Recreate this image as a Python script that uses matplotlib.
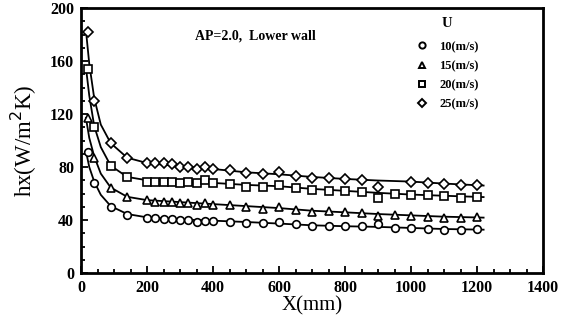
import matplotlib
matplotlib.use("Agg")
import matplotlib.pyplot as plt
from matplotlib.lines import Line2D
from matplotlib.ticker import MultipleLocator

plt.rcParams['font.family'] = ['Liberation Serif', 'DejaVu Serif']

# ---- measured data ----
x_c = [20, 40, 90, 140, 200, 225, 250, 275, 300, 325, 350, 375, 400, 450, 500, 550, 600, 650,
       700, 750, 800, 850, 900, 950, 1000, 1050, 1100, 1150, 1200]
y_c = [91.6, 68, 50, 43.8, 41.8, 41.3, 40.8, 40.8, 40, 40, 38.8, 39.5, 39.3, 38.8, 37.5, 37.5, 38.3, 36.8,
       35.5, 35.5, 35.5, 35.5, 36.8, 33.7, 33.7, 33.2, 32.5, 32.5, 33]

x_t = [20, 40, 90, 140, 200, 225, 250, 275, 300, 325, 350, 375, 400, 450, 500, 550, 600, 650,
       700, 750, 800, 850, 900, 950, 1000, 1050, 1100, 1150, 1200]
y_t = [117, 87, 64.4, 57, 55, 53.8, 53.8, 53.8, 52.6, 53, 51.3, 52.6, 51.3, 51.3, 50, 48.3, 50, 47.6,
       45.8, 46.8, 45.8, 45, 43, 43.8, 43, 42.5, 41.8, 41.3, 42]

x_s = [20, 40, 90, 140, 200, 225, 250, 275, 300, 325, 350, 375, 400, 450, 500, 550, 600, 650,
       700, 750, 800, 850, 900, 950, 1000, 1050, 1100, 1150, 1200]
y_s = [154, 110, 80.5, 72.2, 69, 69, 69, 69, 67.7, 69, 67.7, 70, 68, 67.2, 65.2, 65.2, 66.4, 64.4,
       62.7, 62.2, 62, 60.9, 56.4, 59.6, 58.9, 58.9, 58.4, 56.4, 57]

x_d = [20, 40, 90, 140, 200, 225, 250, 275, 300, 325, 350, 375, 400, 450, 500, 550, 600, 650,
       700, 750, 800, 850, 900, 1000, 1050, 1100, 1150, 1200]
y_d = [182, 130, 98, 86.5, 82.8, 82.8, 82.8, 82.3, 79.8, 80.3, 78.3, 80.3, 78.3, 77.8, 75.3, 74.5, 76, 73.5,
       72, 72, 71, 70.2, 65.2, 69, 67.7, 67, 66.4, 66.4]

# fitted curves
fit_x = [15, 25, 40, 60, 90, 140, 200, 300, 400, 500, 600, 700, 800, 900, 1000, 1100, 1220]
fit_c = [92, 80, 69, 59, 50.5, 44.5, 42, 40.5, 39.5, 38.5, 37.3, 36, 35.3, 34.8, 34, 33.2, 32.7]
fit_t = [117, 102, 88, 75, 64.5, 57.5, 55, 53.5, 52, 50.5, 49, 47, 45.8, 44.5, 43.5, 42.5, 41.8]
fit_s = [155, 134, 111, 95, 81, 72.5, 70, 68.5, 68, 66.5, 65.5, 63.5, 62, 60.5, 59.2, 58.3, 57.3]
fit_d = [183, 158, 132, 112, 98, 87, 83, 80.5, 78.5, 76, 74.5, 72.5, 71, 69.8, 69, 67.5, 66]

labels = ['10(m/s)', '15(m/s)', '20(m/s)', '25(m/s)']
markers = ['o', '^', 's', 'D']

fig = plt.figure(figsize=(5.76, 3.21), dpi=100)
ax = fig.add_axes([81/576, 48/321, 462/576, 265/321])

series = [(x_c, y_c, fit_c), (x_t, y_t, fit_t), (x_s, y_s, fit_s), (x_d, y_d, fit_d)]
msizes = [5.5, 5.5, 5.5, 5]
handles = []
for (xs, ys, fy), m, lab, ms in zip(series, markers, labels, msizes):
    ax.plot(fit_x, fy, color='black', lw=1.3, zorder=2)
    ax.plot(xs, ys, linestyle='none', marker=m, ms=ms, mfc='white', mec='black', mew=1.2, zorder=3)
    handles.append(Line2D([], [], linestyle='none', marker=m, ms=4.5, mfc='white', mec='black', mew=1.4, label=lab))

ax.set_xlim(0, 1400)
ax.set_ylim(0, 200)
ax.xaxis.set_major_locator(MultipleLocator(200))
ax.xaxis.set_minor_locator(MultipleLocator(50))
ax.yaxis.set_major_locator(MultipleLocator(40))
ax.yaxis.set_minor_locator(MultipleLocator(10))
ax.tick_params(which='both', direction='in', top=False, right=False, width=1.3)
ax.tick_params(which='major', length=5, labelsize=11.5, pad=5)
ax.tick_params(which='minor', length=3)
for lab in ax.get_xticklabels() + ax.get_yticklabels():
    lab.set_fontweight('bold')
for sp in ax.spines.values():
    sp.set_linewidth(2)

ax.set_xlabel('X(mm)', fontsize=15, labelpad=0)
ax.set_ylabel('hx(W/m$^2$K)', fontsize=16.5, labelpad=8)

ax.text(345, 179, 'AP=2.0,  Lower wall', fontsize=10, fontweight='bold', ha='left', va='center')

leg = ax.legend(handles=handles, loc='upper left', bbox_to_anchor=(0.705, 1.0), frameon=False,
                title='U', prop={'size': 9, 'weight': 'bold'}, handletextpad=0.9, labelspacing=0.58,
                handlelength=1.0, borderpad=0.2)
leg.get_title().set_fontsize(10.5)
leg.get_title().set_fontweight('bold')
leg._legend_box.sep = 8

fig.savefig('out.png', dpi=100)
